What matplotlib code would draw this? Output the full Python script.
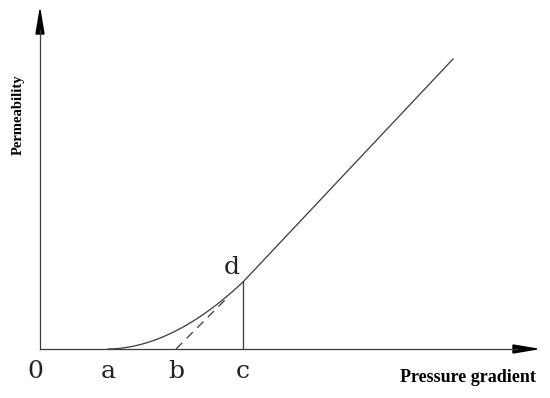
import numpy as np
import matplotlib
matplotlib.use("Agg")
import matplotlib.pyplot as plt

# Key points (pressure gradient, permeability) in arbitrary units
point_labels = ["0", "a", "b", "c"]
point_x = [0, 68, 136, 203]
d_point = (203, 67)
line_end = (413, 290)
curve_power = 1.9
axis_x_end = 497
axis_y_end = 339

fig = plt.figure(figsize=(5.5, 3.98), dpi=100)
ax = fig.add_axes([0, 0, 1, 1])
ax.set_xlim(-40, 510)
ax.set_ylim(-49, 349)
ax.axis("off")

col = "#3a3a3a"
lw = 0.9

# axes with arrows
ax.plot([0, axis_x_end - 20], [0, 0], color=col, lw=lw)
ax.plot([0, 0], [0, axis_y_end - 20], color=col, lw=lw)
ax.arrow(axis_x_end - 24, 0, 24, 0, width=0.01, head_width=8, head_length=24,
         length_includes_head=True, color="black")
ax.arrow(0, axis_y_end - 24, 0, 24, width=0.01, head_width=8, head_length=24,
         length_includes_head=True, color="black")

# curve a -> d
a = point_x[1]
xs = np.linspace(a, d_point[0], 200)
ys = d_point[1] * ((xs - a) / (d_point[0] - a)) ** curve_power
ax.plot(xs, ys, color=col, lw=lw)
# straight part
ax.plot([d_point[0], line_end[0]], [d_point[1], line_end[1]], color=col, lw=lw)
# vertical c -> d
ax.plot([point_x[3], point_x[3]], [0, d_point[1]], color=col, lw=lw)
# dashed b -> near d
b = point_x[2]
t = 0.77
ax.plot([b, b + t * (d_point[0] - b)], [0, t * d_point[1]], color=col, lw=lw,
        ls=(0, (7, 5)))

# labels
for lab, x in zip(point_labels, point_x):
    xx = x - 5 if lab == "0" else x
    ax.text(xx, -22, lab, ha="center", va="center", fontsize=18,
            family="DejaVu Serif", color="#222222")
ax.text(d_point[0] - 11, d_point[1] + 15, "d", ha="center", va="center",
        fontsize=18, family="DejaVu Serif", color="#222222")

ax.text(-22, 234, "Permeability", rotation=90, ha="center", va="center",
        fontsize=10.5, fontweight="bold", family="Liberation Serif")
ax.text(428, -28, "Pressure gradient", ha="center", va="center",
        fontsize=13, fontweight="bold", family="Liberation Serif")

fig.savefig("out.png", dpi=100)
